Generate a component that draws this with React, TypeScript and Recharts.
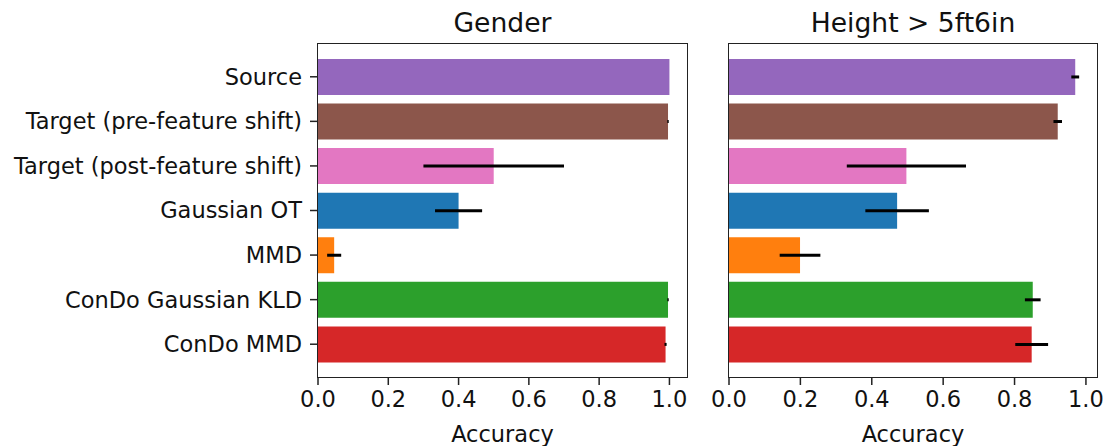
import { Bar, BarChart, Cell, ErrorBar, XAxis, YAxis } from "recharts";

const categories = [
  "Source",
  "Target (pre-feature shift)",
  "Target (post-feature shift)",
  "Gaussian OT",
  "MMD",
  "ConDo Gaussian KLD",
  "ConDo MMD",
];
const colors = ["#9467bd", "#8c564b", "#e377c2", "#1f77b4", "#ff7f0e", "#2ca02c", "#d62728"];

const genderAcc = [1.0, 0.996, 0.5, 0.4, 0.046, 0.996, 0.989];
const genderErr = [0.0, 0.002, 0.2, 0.067, 0.02, 0.002, 0.003];

const heightAcc = [0.97, 0.921, 0.497, 0.471, 0.199, 0.851, 0.848];
const heightErr = [0.011, 0.012, 0.167, 0.089, 0.057, 0.022, 0.046];

const xTicks = [0, 0.2, 0.4, 0.6, 0.8, 1.0];

const FONT = "'DejaVu Sans', sans-serif";
const INK = "#222";
const TICK_FS = 22.5;

interface PanelProps {
  title: string;
  acc: number[];
  err: number[];
  xMax: number;
  left: number;
  width: number;
  axisWidth: number;
  showLabels: boolean;
}

function Panel({ title, acc, err, xMax, left, width, axisWidth, showLabels }: PanelProps) {
  const data = categories.map((name, i) => ({ name, acc: acc[i], err: err[i] }));
  const marginRight = 10;
  const top = 44;
  const xAxisHeight = 69;
  const plotW = width - axisWidth - marginRight;
  const plotH = 446 - top - xAxisHeight;

  return (
    <div style={{ position: "absolute", left, top: 0, width, height: 446 }}>
      <div
        style={{
          position: "absolute",
          left: axisWidth,
          width: plotW,
          top: 7,
          textAlign: "center",
          fontFamily: FONT,
          fontSize: 26.6,
          color: "#111",
        }}
      >
        {title}
      </div>
      <BarChart
        width={width}
        height={446}
        data={data}
        layout="vertical"
        margin={{ top, right: marginRight, bottom: 0, left: 0 }}
        barCategoryGap="10%"
      >
        <XAxis
          type="number"
          domain={[0, xMax]}
          ticks={xTicks}
          allowDataOverflow
          tickFormatter={(v: number) => v.toFixed(1)}
          height={xAxisHeight}
          tickSize={8}
          tickMargin={6}
          axisLine={false}
          tickLine={{ stroke: INK, strokeWidth: 1.5 }}
          tick={{ fill: "#111", fontSize: TICK_FS, fontFamily: FONT }}
          label={{
            value: "Accuracy",
            position: "insideBottom",
            offset: 4,
            fill: "#111",
            fontSize: TICK_FS,
            fontFamily: FONT,
          }}
        />
        <YAxis
          type="category"
          dataKey="name"
          width={axisWidth}
          padding={{ top: 10.5, bottom: 10.5 }}
          axisLine={false}
          tickSize={8}
          tickMargin={8}
          interval={0}
          tickLine={showLabels ? { stroke: INK, strokeWidth: 1.5 } : false}
          tick={showLabels ? { fill: "#111", fontSize: TICK_FS, fontFamily: FONT } : false}
        />
        <Bar dataKey="acc" isAnimationActive={false}>
          {data.map((d, i) => (
            <Cell key={d.name} fill={colors[i]} />
          ))}
          <ErrorBar dataKey="err" direction="x" width={0} stroke="#000" strokeWidth={3} />
        </Bar>
      </BarChart>
      <div
        style={{
          position: "absolute",
          left: axisWidth - 0.75,
          top: top - 0.75,
          width: plotW + 1.5,
          height: plotH + 1.5,
          boxSizing: "border-box",
          border: `1.5px solid ${INK}`,
          pointerEvents: "none",
        }}
      />
    </div>
  );
}

export default function App() {
  return (
    <div style={{ position: "relative", width: 1107, height: 446, background: "#fff", overflow: "hidden" }}>
      <style>{"body{margin:0}"}</style>
      <Panel title="Gender" acc={genderAcc} err={genderErr} xMax={1.05} left={0} width={697} axisWidth={318} showLabels />
      <Panel
        title="Height > 5ft6in"
        acc={heightAcc}
        err={heightErr}
        xMax={1.031}
        left={700}
        width={407}
        axisWidth={29}
        showLabels={false}
      />
    </div>
  );
}
